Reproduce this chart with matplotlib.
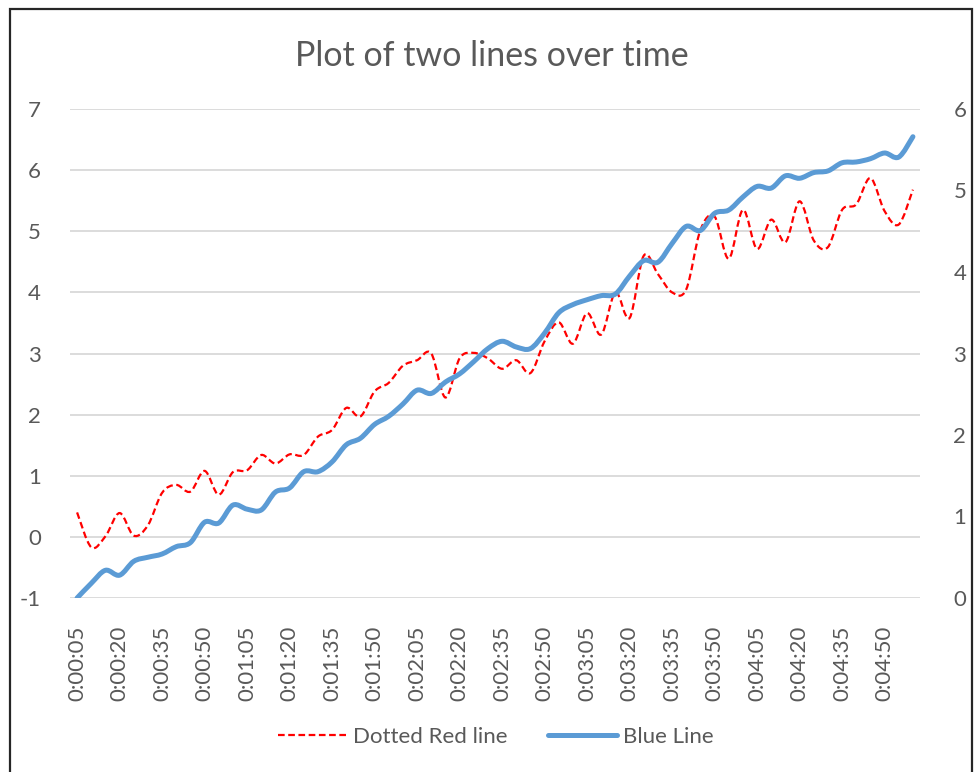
#!/usr/bin/env python3
"""Two smoothed lines on twin y axes (Excel-style chart)"""
import numpy as np
import matplotlib
matplotlib.use("Agg")
import matplotlib.pyplot as plt
from matplotlib.path import Path
from matplotlib.patches import PathPatch, Rectangle
from matplotlib.lines import Line2D

plt.rcParams['font.family'] = ['Lato', 'DejaVu Sans']
plt.rcParams['axes.unicode_minus'] = False

# ── data ─────────────────────────────────────
times = [
    "0:00:05", "0:00:10", "0:00:15", "0:00:20", "0:00:25", "0:00:30",
    "0:00:35", "0:00:40", "0:00:45", "0:00:50", "0:00:55", "0:01:00",
    "0:01:05", "0:01:10", "0:01:15", "0:01:20", "0:01:25", "0:01:30",
    "0:01:35", "0:01:40", "0:01:45", "0:01:50", "0:01:55", "0:02:00",
    "0:02:05", "0:02:10", "0:02:15", "0:02:20", "0:02:25", "0:02:30",
    "0:02:35", "0:02:40", "0:02:45", "0:02:50", "0:02:55", "0:03:00",
    "0:03:05", "0:03:10", "0:03:15", "0:03:20", "0:03:25", "0:03:30",
    "0:03:35", "0:03:40", "0:03:45", "0:03:50", "0:03:55", "0:04:00",
    "0:04:05", "0:04:10", "0:04:15", "0:04:20", "0:04:25", "0:04:30",
    "0:04:35", "0:04:40", "0:04:45", "0:04:50", "0:04:55", "0:05:00",
]

red_line = [
    0.40, -0.17, 0.01, 0.39, 0.02, 0.19, 0.72, 0.85, 0.74, 1.08,
    0.69, 1.06, 1.09, 1.34, 1.20, 1.35, 1.34, 1.64, 1.75, 2.11,
    1.97, 2.38, 2.52, 2.80, 2.89, 3.00, 2.28, 2.92, 3.01, 2.92,
    2.75, 2.89, 2.68, 3.20, 3.51, 3.16, 3.66, 3.31, 4.00, 3.58,
    4.60, 4.30, 4.00, 4.05, 5.02, 5.24, 4.55, 5.35, 4.71, 5.19,
    4.82, 5.49, 4.85, 4.74, 5.35, 5.44, 5.87, 5.33, 5.11, 5.68,
]

blue_line = [
    0.00, 0.18, 0.34, 0.28, 0.45, 0.50, 0.54, 0.63, 0.68, 0.93,
    0.92, 1.14, 1.09, 1.08, 1.30, 1.35, 1.55, 1.55, 1.67, 1.88,
    1.96, 2.13, 2.23, 2.38, 2.55, 2.51, 2.65, 2.75, 2.90, 3.06,
    3.15, 3.08, 3.06, 3.25, 3.50, 3.60, 3.66, 3.71, 3.73, 3.95,
    4.14, 4.12, 4.35, 4.56, 4.51, 4.72, 4.76, 4.92, 5.05, 5.03,
    5.18, 5.15, 5.22, 5.24, 5.34, 5.35, 5.39, 5.46, 5.41, 5.66,
]

left_ticks = [-1, 0, 1, 2, 3, 4, 5, 6, 7]
right_ticks = [0, 1, 2, 3, 4, 5, 6]

RED = '#FF0000'
BLUE = '#5B9BD5'
TXT = '#595959'
GRID = '#D9D9D9'
DASH = (0, (3, 1.6))


def smooth_path(xs, ys):
    """Excel 风格平滑线：用三次贝塞尔穿过每个数据点"""
    p = np.column_stack([xs, ys]).astype(float)
    n = len(p)
    verts = [p[0]]
    codes = [Path.MOVETO]
    for i in range(n - 1):
        p0 = p[max(i - 1, 0)]
        p3 = p[min(i + 2, n - 1)]
        c1 = p[i] + (p[i + 1] - p0) / 6.0
        c2 = p[i + 1] - (p3 - p[i]) / 6.0
        verts += [c1, c2, p[i + 1]]
        codes += [Path.CURVE4] * 3
    return Path(verts, codes)


fig = plt.figure(figsize=(9.77, 7.72), dpi=100)
ax = fig.add_axes([70 / 977, 1 - 598 / 772, 850 / 977, 489 / 772])
ax2 = ax.twinx()

x = np.arange(len(times))

ax.add_patch(PathPatch(smooth_path(x, red_line), fill=False, edgecolor=RED,
                       lw=1.6, linestyle=DASH, capstyle='butt', zorder=3))
ax2.add_patch(PathPatch(smooth_path(x, blue_line), fill=False, edgecolor=BLUE,
                        lw=3.6, capstyle='round', joinstyle='round', zorder=3))

ax.set_xlim(-0.5, len(times) - 0.5)
ax.set_ylim(-1, 7)
ax2.set_ylim(0, 6)

ax.set_yticks(left_ticks)
ax2.set_yticks(right_ticks)
ax.set_xticks(x[::3])
ax.set_xticklabels(times[::3], rotation=90, va='top', ha='center')

ax.yaxis.grid(True, color=GRID, lw=1.3)
ax.set_axisbelow(True)
for a in (ax, ax2):
    for s in a.spines.values():
        s.set_visible(False)
    a.tick_params(length=0, colors=TXT, labelsize=16)
ax.tick_params(axis='y', pad=21)
ax2.tick_params(axis='y', pad=24)
ax.tick_params(axis='x', pad=20)

fig.text(492 / 977, 1 - 56 / 772, 'Plot of two lines over time',
         ha='center', va='center', fontsize=24.5, color=TXT)

handles = [
    Line2D([], [], color=RED, lw=1.6, linestyle=DASH),
    Line2D([], [], color=BLUE, lw=3.6, solid_capstyle='round'),
]
fig.legend(handles, ['Dotted Red line', 'Blue Line'], loc='center',
           bbox_to_anchor=(496 / 977, 1 - 737 / 772), ncol=2, frameon=False,
           fontsize=16, labelcolor=TXT, handlelength=3.1, handletextpad=0.3,
           columnspacing=1.8)

# 图表外框
fig.patches.append(Rectangle((10 / 977, -0.02), 962 / 977, 1.02 - 9 / 772,
                             transform=fig.transFigure, fill=False,
                             edgecolor='#262626', lw=1.6))

plt.savefig('out.png', dpi=100)
